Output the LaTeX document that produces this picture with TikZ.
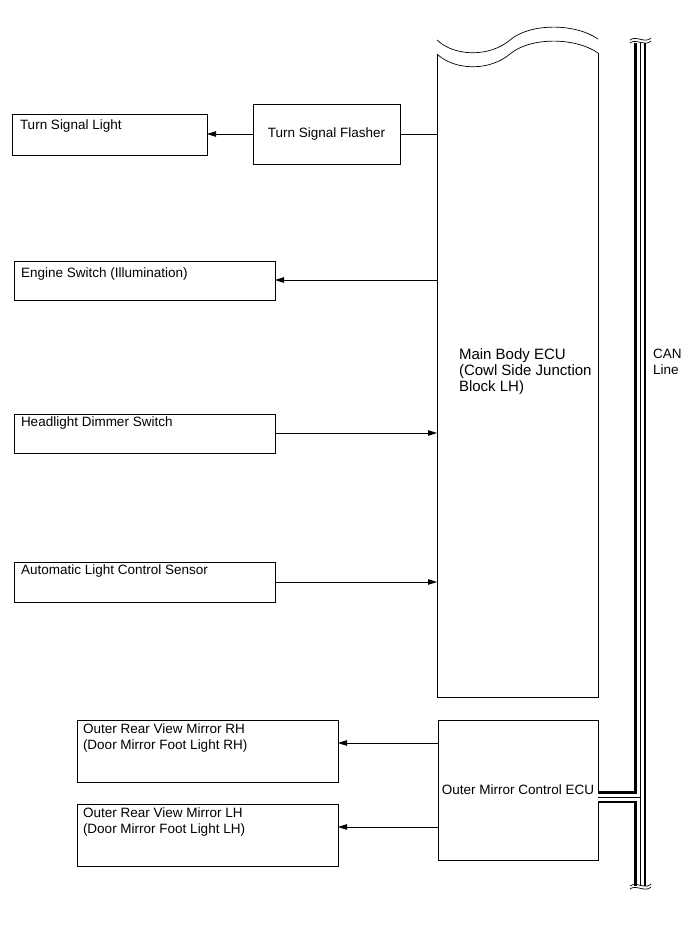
\documentclass[tikz,border=0pt]{standalone}
\usepackage{fontspec}
\setmainfont{Liberation Sans}
\usetikzlibrary{arrows.meta}
\tikzset{
  box/.style={draw, line width=0.8bp, inner sep=0pt, outer sep=0pt},
  txt/.style={inner sep=0pt, outer sep=0pt, align=left, font=\fontsize{13.5bp}{16bp}\selectfont},
  bigtxt/.style={inner sep=0pt, outer sep=0pt, align=left, font=\fontsize{15bp}{16bp}\selectfont},
  conn/.style={line width=0.8bp},
  arr/.style={line width=0.8bp, -{Triangle[length=9bp,width=5.5bp]}},
  wave/.style={line width=0.7bp},
}
\newcommand\mybox[5]{\node[box, minimum width={(#4-#2)*1bp}, minimum height={(#5-#3)*1bp}] (#1) at ({(#2+#4)/2},{(#3+#5)/2}) {};}
\begin{document}
\begin{tikzpicture}[x=1bp, y=-1bp]
\useasboundingbox (0,0) rectangle (691,952);
% boxes
\mybox{tsl}{12}{114}{207}{155}
\mybox{tsf}{253}{104}{400}{164}
\mybox{eng}{14}{261}{275}{300}
\mybox{hds}{14}{414}{275}{453}
\mybox{alc}{14}{562}{275}{602}
\mybox{omecu}{438}{720}{598}{860}
\mybox{rh}{77}{720}{338}{782}
\mybox{lh}{77}{804}{338}{866}
% main body ECU (open top with wavy break)
\node[inner sep=0pt, outer sep=0pt, minimum width=161bp, minimum height=643bp] (mbecu) at (517.5,375.5) {};
\draw[conn] (437,54) -- (437,697) -- (598,697) -- (598,53);
\draw[wave] (437,54) .. controls (455,71) and (490,71) .. (510,54) .. controls (530,37) and (575,37) .. (598,53);
\draw[wave] (437,40) .. controls (455,57) and (490,57) .. (510,40) .. controls (530,23) and (575,23) .. (598,39);
% texts
\node[txt, anchor=base west] (tTSL) at (20,129) {Turn Signal Light};
\node[txt] (tTSF) at (tsf.center) {Turn Signal Flasher};
\node[txt, anchor=base west] (tENG) at (21,277) {Engine Switch (Illumination)};
\node[txt, anchor=base west] (tHDS) at (21,426) {Headlight Dimmer Switch};
\node[txt, anchor=base west] (tALC) at (21,574) {Automatic Light Control Sensor};
\node[txt, anchor=base west] (tRH) at (83,749) {Outer Rear View Mirror RH\\(Door Mirror Foot Light RH)};
\node[txt, anchor=base west] (tLH) at (83,833) {Outer Rear View Mirror LH\\(Door Mirror Foot Light LH)};
\node[txt] (tOM) at (omecu.center) {Outer Mirror Control ECU};
\node[bigtxt, anchor=base west] (tMB) at (459,391) {Main Body ECU\\(Cowl Side Junction\\Block LH)};
\node[txt, anchor=base west] (tCAN) at (653,374) {CAN\\Line};
% connectors
\draw[conn] (mbecu.west |- tsf.east) -- (tsf.east);
\draw[arr] (tsf.west) -- (tsl.east |- tsf.west);
\draw[arr] (mbecu.west |- 0,280) -- (eng.east |- 0,280);
\draw[arr] (hds.east |- 0,433) -- (mbecu.west |- 0,433);
\draw[arr] (alc.east |- 0,582) -- (mbecu.west |- 0,582);
\draw[arr] (omecu.west |- 0,743) -- (rh.east |- 0,743);
\draw[arr] (omecu.west |- 0,827) -- (lh.east |- 0,827);
% CAN line
\coordinate (cantop) at (640,43);
\coordinate (canbot) at (640,886);
\coordinate (canj) at (640,797);
\draw[line width=12bp] (cantop) -- (canbot);
\draw[line width=12bp] (omecu.east |- canj) -- (canj);
\draw[line width=7bp, white] (cantop) -- (canbot);
\draw[line width=7bp, white] (omecu.east |- canj) -- (canj);
\draw[line width=0.9bp] (cantop) -- (canbot);
\draw[line width=0.9bp] (omecu.east |- canj) -- (canj);
\draw[wave] (630,40) .. controls (636,35) and (645,44) .. (651,38);
\draw[wave] (630,43) .. controls (636,38) and (645,47) .. (651,41);
\draw[wave] (630,886) .. controls (636,881) and (645,890) .. (651,884);
\draw[wave] (630,889) .. controls (636,884) and (645,893) .. (651,887);
\end{tikzpicture}
\end{document}
